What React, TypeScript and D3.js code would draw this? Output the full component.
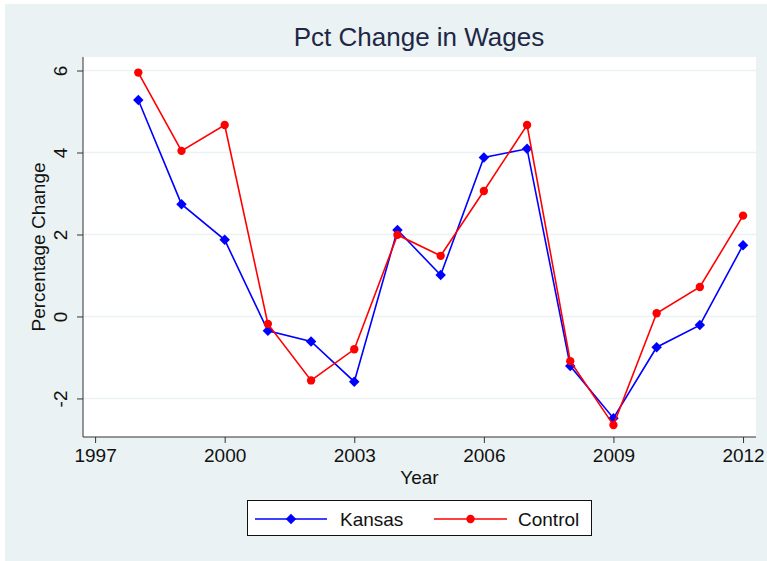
import { useRef, useEffect } from 'react';
import * as d3 from 'd3';

const years = [1998, 1999, 2000, 2001, 2002, 2003, 2004, 2005, 2006, 2007, 2008, 2009, 2010, 2011, 2012];
const kansas = [5.28, 2.74, 1.87, -0.35, -0.61, -1.59, 2.11, 1.01, 3.88, 4.09, -1.21, -2.48, -0.75, -0.21, 1.74];
const control = [5.95, 4.04, 4.67, -0.18, -1.56, -0.8, 1.99, 1.48, 3.06, 4.67, -1.09, -2.65, 0.08, 0.72, 2.46];
const xTicks = [1997, 2000, 2003, 2006, 2009, 2012];
const yTicks = [-2, 0, 2, 4, 6];

const W = 767;
const H = 561;
const font = 'Liberation Sans, Arial, sans-serif';

export default function App() {
  const svgRef = useRef(null);

  useEffect(() => {
    const svg = d3.select(svgRef.current);
    svg.selectAll('*').remove();

    const left = 83, right = 756, top = 57, bottom = 437;

    const x = d3.scaleLinear().domain([1996.72, 2012.3]).range([left, right]);
    const y = d3.scaleLinear().domain([-2.94, 6.33]).range([bottom, top]);

    // background
    svg.append('rect').attr('width', W).attr('height', H).attr('fill', '#fff');
    svg.append('rect').attr('x', 5).attr('y', 4).attr('width', W - 5).attr('height', H - 4).attr('fill', '#eaf2f3');
    svg.append('rect').attr('x', left).attr('y', top).attr('width', right - left).attr('height', bottom - top).attr('fill', '#fff');

    // grid
    svg.selectAll('.grid')
      .data(yTicks)
      .join('line')
      .attr('x1', left).attr('x2', right)
      .attr('y1', (d) => y(d)).attr('y2', (d) => y(d))
      .attr('stroke', '#eaf2f3').attr('stroke-width', 1.5);

    // title
    svg.append('text')
      .attr('x', 419).attr('y', 46)
      .attr('text-anchor', 'middle')
      .attr('font-family', font).attr('font-size', 26)
      .attr('fill', '#1e2846')
      .text('Pct Change in Wages');

    // y axis
    const yAxis = d3.axisLeft(y).tickValues(yTicks).tickFormat((d) => String(d)).tickSize(6).tickSizeOuter(0);
    const gy = svg.append('g').attr('transform', `translate(${left},0)`).call(yAxis);
    gy.select('.domain').attr('stroke', '#333').attr('d', `M0,${top}V${bottom}`);
    gy.selectAll('line').attr('stroke', '#333');
    gy.selectAll('text')
      .attr('font-family', font).attr('font-size', 19).attr('fill', '#111')
      .attr('transform', 'rotate(-90)')
      .attr('x', 0).attr('y', -16).attr('dy', 0)
      .attr('text-anchor', 'middle');

    // x axis
    const xAxis = d3.axisBottom(x).tickValues(xTicks).tickFormat((d) => String(d)).tickSize(6).tickSizeOuter(0).tickPadding(6);
    const gx = svg.append('g').attr('transform', `translate(0,${bottom})`).call(xAxis);
    gx.select('.domain').attr('stroke', '#333').attr('d', `M${left},0H${right}`);
    gx.selectAll('line').attr('stroke', '#333');
    gx.selectAll('text').attr('font-family', font).attr('font-size', 19).attr('fill', '#111');

    // axis titles
    svg.append('text')
      .attr('transform', `translate(45,${(top + bottom) / 2}) rotate(-90)`)
      .attr('text-anchor', 'middle')
      .attr('font-family', font).attr('font-size', 19).attr('fill', '#111')
      .text('Percentage Change');
    svg.append('text')
      .attr('x', (left + right) / 2).attr('y', 484)
      .attr('text-anchor', 'middle')
      .attr('font-family', font).attr('font-size', 19).attr('fill', '#111')
      .text('Year');

    const series = [
      { name: 'Kansas', values: kansas, color: '#0000ff', marker: d3.symbolSquare, size: 55, rot: 45 },
      { name: 'Control', values: control, color: '#ff0000', marker: d3.symbolCircle, size: 55, rot: 0 },
    ];

    const line = d3.line<number>().x((_, i) => x(years[i])).y((d) => y(d));

    series.forEach((s) => {
      svg.append('path')
        .attr('d', line(s.values))
        .attr('fill', 'none')
        .attr('stroke', s.color)
        .attr('stroke-width', 1.6);
      svg.selectAll(null)
        .data(s.values)
        .join('path')
        .attr('d', d3.symbol().type(s.marker).size(s.size))
        .attr('transform', (d, i) => `translate(${x(years[i])},${y(d)}) rotate(${s.rot})`)
        .attr('fill', s.color);
    });

    // legend
    const lg = svg.append('g');
    lg.append('rect')
      .attr('x', 247.5).attr('y', 500.5).attr('width', 344).attr('height', 35)
      .attr('fill', '#fff').attr('stroke', '#111').attr('stroke-width', 1);
    const items = [
      { ...series[0], x1: 255, x2: 327, tx: 340 },
      { ...series[1], x1: 434, x2: 507, tx: 518 },
    ];
    items.forEach((it) => {
      lg.append('line')
        .attr('x1', it.x1).attr('x2', it.x2).attr('y1', 519).attr('y2', 519)
        .attr('stroke', it.color).attr('stroke-width', 1.6);
      lg.append('path')
        .attr('d', d3.symbol().type(it.marker).size(it.size))
        .attr('transform', `translate(${(it.x1 + it.x2) / 2},519) rotate(${it.rot})`)
        .attr('fill', it.color);
      lg.append('text')
        .attr('x', it.tx).attr('y', 526)
        .attr('font-family', font).attr('font-size', 19).attr('fill', '#111')
        .text(it.name);
    });
  }, []);

  return (
    <div>
      <svg ref={svgRef} width={W} height={H} style={{ position: 'absolute', left: 0, top: 0 }} />
    </div>
  );
}
